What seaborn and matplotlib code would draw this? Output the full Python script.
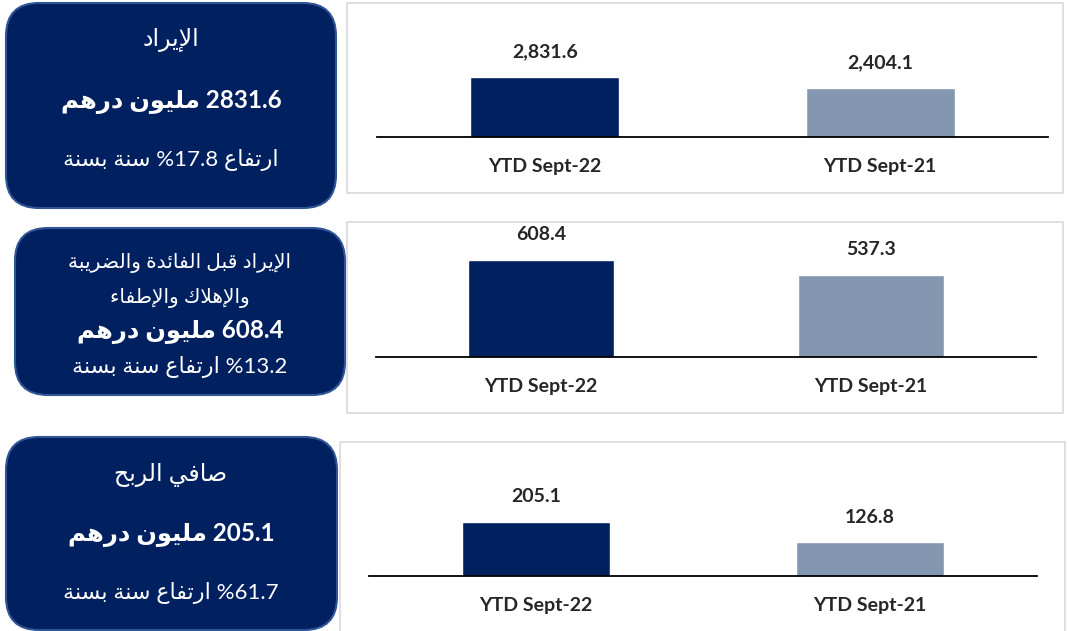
import matplotlib
matplotlib.use("Agg")
import matplotlib.pyplot as plt
from matplotlib.patches import FancyBboxPatch, Rectangle
import seaborn as sns

# data
periods = ["YTD Sept-22", "YTD Sept-21"]
revenue = [2831.6, 2404.1]
ebitda = [608.4, 537.3]
net_profit = [205.1, 126.8]

titles = ["الإيراد", "الإيراد قبل الفائدة والضريبة\nوالإهلاك والإطفاء", "صافي الربح"]
headlines = ["2831.6 مليون درهم", "608.4 مليون درهم", "205.1 مليون درهم"]
growth = ["ارتفاع 17.8% سنة بسنة", "13.2% ارتفاع سنة بسنة", "61.7% ارتفاع سنة بسنة"]

DARK = "#002060"
LIGHT = "#8497B0"

# arabic shaping (matplotlib has no shaping engine): presentation forms B
AR_FORMS = {
    'ء': (0xFE80, 1), 'آ': (0xFE81, 2), 'أ': (0xFE83, 2), 'ؤ': (0xFE85, 2), 'إ': (0xFE87, 2),
    'ئ': (0xFE89, 4), 'ا': (0xFE8D, 2), 'ب': (0xFE8F, 4), 'ة': (0xFE93, 2), 'ت': (0xFE95, 4),
    'ث': (0xFE99, 4), 'ج': (0xFE9D, 4), 'ح': (0xFEA1, 4), 'خ': (0xFEA5, 4), 'د': (0xFEA9, 2),
    'ذ': (0xFEAB, 2), 'ر': (0xFEAD, 2), 'ز': (0xFEAF, 2), 'س': (0xFEB1, 4), 'ش': (0xFEB5, 4),
    'ص': (0xFEB9, 4), 'ض': (0xFEBD, 4), 'ط': (0xFEC1, 4), 'ظ': (0xFEC5, 4), 'ع': (0xFEC9, 4),
    'غ': (0xFECD, 4), 'ف': (0xFED1, 4), 'ق': (0xFED5, 4), 'ك': (0xFED9, 4), 'ل': (0xFEDD, 4),
    'م': (0xFEE1, 4), 'ن': (0xFEE5, 4), 'ه': (0xFEE9, 4), 'و': (0xFEED, 2), 'ى': (0xFEEF, 2),
    'ي': (0xFEF1, 4),
}
LAM_ALEF = {'آ': 0xFEF5, 'أ': 0xFEF7, 'إ': 0xFEF9, 'ا': 0xFEFB}


def shape(word):
    units = []
    i = 0
    while i < len(word):
        c = word[i]
        if c == 'ل' and i + 1 < len(word) and word[i + 1] in LAM_ALEF:
            units.append((LAM_ALEF[word[i + 1]], 2))
            i += 2
        elif c in AR_FORMS:
            units.append(AR_FORMS[c])
            i += 1
        else:
            units.append((c, 0))
            i += 1
    out = []
    for k, (base, n) in enumerate(units):
        if n == 0:
            out.append(base)
            continue
        join_prev = n >= 2 and k > 0 and units[k - 1][1] == 4
        join_next = n == 4 and k + 1 < len(units) and units[k + 1][1] >= 2
        off = 3 if (join_prev and join_next) else 1 if join_prev else 2 if join_next else 0
        out.append(chr(base + off))
    return "".join(out)


def is_arabic(tok):
    return any('\u0600' <= c <= '\u06FF' for c in tok)


def rtl(text):
    lines = []
    for line in text.split("\n"):
        toks = []
        for tok in reversed(line.split(" ")):
            if is_arabic(tok):
                toks.append(shape(tok)[::-1])
            elif tok.endswith("%"):
                toks.append("%" + tok[:-1])
            else:
                toks.append(tok)
        lines.append(" ".join(toks))
    return "\n".join(lines)


sns.set_style("white")
plt.rcParams['font.family'] = ['Lato', 'DejaVu Sans']

W, H = 1069, 631
fig = plt.figure(figsize=(W / 100, H / 100), dpi=100)
bg = fig.add_axes([0, 0, 1, 1], zorder=0)
bg.set_xlim(0, W)
bg.set_ylim(H, 0)
bg.axis("off")

# left boxes (x0, y0, x1, y1) in pixels
boxes = [(6, 3, 336, 208), (15, 228, 345, 395), (6, 437, 337, 630)]
for x0, y0, x1, y1 in boxes:
    bg.add_patch(FancyBboxPatch((x0, y0), x1 - x0, y1 - y0,
                                boxstyle="round,pad=0,rounding_size=33",
                                fc=DARK, ec="#2F5597", lw=1.5))

# box texts
bg.text(171, 40, rtl(titles[0]), color="white", fontsize=17, ha="center", va="center")
bg.text(171, 102, rtl(headlines[0]), color="white", fontsize=17.5, fontweight="bold", ha="center", va="center")
bg.text(171, 160, rtl(growth[0]), color="white", fontsize=16, ha="center", va="center")

t1, t2 = rtl(titles[1]).split("\n")
bg.text(180, 263, t1, color="white", fontsize=14.5, ha="center", va="center")
bg.text(180, 298, t2, color="white", fontsize=14.5, ha="center", va="center")
bg.text(180, 332, rtl(headlines[1]), color="white", fontsize=17.5, fontweight="bold", ha="center", va="center")
bg.text(180, 367, rtl(growth[1]), color="white", fontsize=16, ha="center", va="center")

bg.text(171, 475, rtl(titles[2]), color="white", fontsize=17, ha="center", va="center")
bg.text(171, 535, rtl(headlines[2]), color="white", fontsize=17.5, fontweight="bold", ha="center", va="center")
bg.text(171, 593, rtl(growth[2]), color="white", fontsize=16, ha="center", va="center")

# chart panel frames
frames = [(347, 3, 1063, 193), (347, 222, 1063, 413), (340, 442, 1065, 660)]
for x0, y0, x1, y1 in frames:
    bg.add_patch(Rectangle((x0, y0), x1 - x0, y1 - y0, fill=False, ec="#D9D9D9", lw=1.2))

# charts: (x_left, x_right, y_top, y_axis, ymin, ymax)
layouts = [
    (377, 1048, 10, 137.3, 500, 5398),
    (376, 1036, 227, 356.7, 150, 765),
    (369, 1037, 447, 575.7, 0, 491.5),
]
series = [revenue, ebitda, net_profit]

for vals, (xl, xr, yt, ya, ymin, ymax) in zip(series, layouts):
    ax = fig.add_axes([xl / W, 1 - ya / H, (xr - xl) / W, (ya - yt) / H], zorder=1)
    ax.set_facecolor("none")
    sns.barplot(x=periods, y=vals, hue=periods, palette=[DARK, LIGHT], width=0.445,
                saturation=1, legend=False, ax=ax)
    for cont in ax.containers:
        ax.bar_label(cont, fmt="{:,.1f}", padding=12, fontsize=14, fontweight="bold")
    ax.set_xlim(-0.5, 1.5)
    ax.set_ylim(ymin, ymax)
    ax.set_yticks([])
    ax.set_xlabel("")
    ax.set_ylabel("")
    ax.set_xticks([0, 1])
    ax.set_xticklabels(periods, fontsize=14, fontweight="bold")
    ax.set_xticks([-0.5, 0.5, 1.5], minor=True)
    ax.tick_params(axis="x", which="major", length=0, pad=15)
    ax.tick_params(axis="x", which="minor", length=5, width=1.3, color="black", direction="out")
    for s in ["top", "right", "left"]:
        ax.spines[s].set_visible(False)
    ax.spines["bottom"].set_color("black")
    ax.spines["bottom"].set_linewidth(1.3)

fig.savefig("out.png", dpi=100)
print("saved out.png")
